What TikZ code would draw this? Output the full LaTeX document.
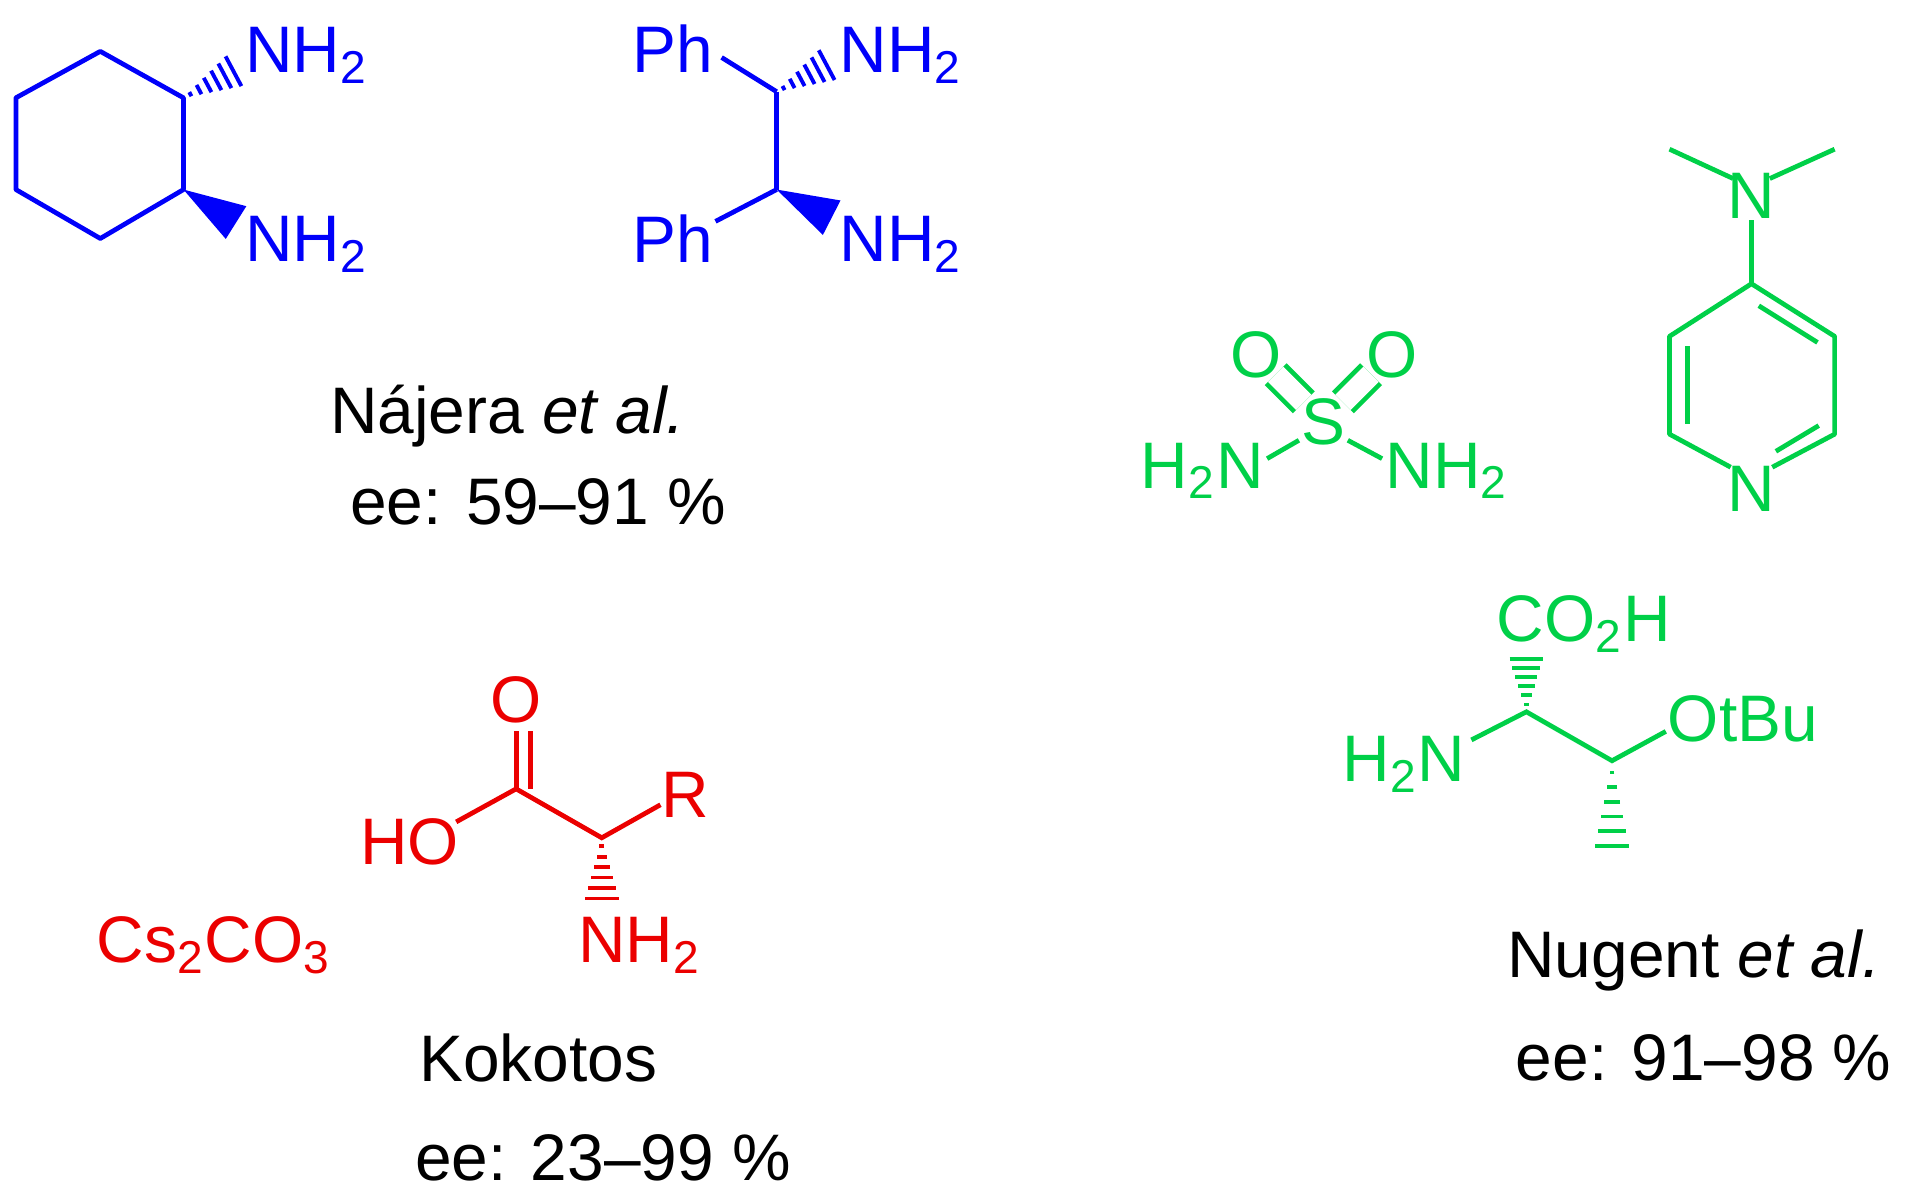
\documentclass[tikz,border=0pt]{standalone}
\usepackage{fontspec}
\setmainfont{Liberation Sans}
\usetikzlibrary{calc}
\definecolor{cb}{RGB}{0,0,250}
\definecolor{cg}{RGB}{0,208,72}
\definecolor{cr}{RGB}{235,0,0}
\tikzset{lab/.style={inner sep=0pt,font=\fontsize{15.3pt}{18pt}\selectfont},bd/.style={line width=1.1pt}}
\newcommand\sub[1]{\textsubscript{#1}}
\newcommand\hashb[3]{\foreach \t in {0.12,0.27,...,1.0}{\path coordinate (hp) at ($(#1)!\t!(#2)$);\draw[#3,line width=0.9pt] ($(hp)!\t*4.5pt!90:(#2)$) -- ($(hp)!\t*4.5pt!-90:(#2)$);}}
\newcommand\wedgeb[3]{\fill[#3] (#1) -- ($(#2)!4.5pt!90:(#1)$) -- ($(#2)!4.5pt!-90:(#1)$) -- cycle;}
\begin{document}
\begin{tikzpicture}[x=0.01cm,y=-0.01cm]
\useasboundingbox (0,0) rectangle (1560,983);
% blue cyclohexane
\begin{scope}[cb]
\coordinate (a1) at (82,42);\coordinate (a2) at (150,80);\coordinate (a3) at (150,155);
\coordinate (a4) at (82,195);\coordinate (a5) at (13,155);\coordinate (a6) at (13,80);
\draw[bd,line join=round] (a1)--(a2)--(a3)--(a4)--(a5)--(a6)--cycle;
\coordinate (h1) at (197,55);\coordinate (w1) at (193,182);
\hashb{a2}{h1}{cb}\wedgeb{a3}{w1}{cb}
\node[lab,anchor=west] (n1) at (200,45) {NH\sub{2}};
\node[lab,anchor=west] (n2) at (200,200) {NH\sub{2}};
\coordinate (b1) at (635,75);\coordinate (b2) at (635,155);
\draw[bd] (b1)--(b2);
\node[lab] (ph1) at (550,40) {Ph};\node[lab] (ph2) at (550,195) {Ph};
\coordinate (pe1) at (590,47);\coordinate (pe2) at (585,181);
\draw[bd] (pe1)--(b1);\draw[bd] (pe2)--(b2);
\coordinate (h2) at (682,50);\coordinate (w2) at (680,178);
\hashb{b1}{h2}{cb}\wedgeb{b2}{w2}{cb}
\node[lab,anchor=west] (n3) at (686,45) {NH\sub{2}};
\node[lab,anchor=west] (n4) at (686,200) {NH\sub{2}};
\end{scope}
\node[lab] (t1) at (415,340) {Nájera \textit{et al.}};
\node[lab] (t2) at (440,410) {ee: 59–91 \%};
% green sulfamide
\begin{scope}[cg]
\node[lab] (s) at (1082,345) {S};
\node[lab] (o1) at (1027,290) {O};\node[lab] (o2) at (1138,290) {O};
\node[lab] (sn1) at (983,385) {H\sub{2}N};\node[lab] (sn2) at (1183,385) {NH\sub{2}};
\coordinate (so1a) at (1066,329);\coordinate (so1b) at (1043,306);
\coordinate (so2a) at (1098,329);\coordinate (so2b) at (1121,306);
\draw[bd,double,double distance=5pt] (so1a)--(so1b);
\draw[bd,double,double distance=5pt] (so2a)--(so2b);
\coordinate (sna) at (1062,360);\coordinate (snb) at (1036,375);
\coordinate (snc) at (1102,360);\coordinate (snd) at (1130,375);
\draw[bd] (sna)--(snb);\draw[bd] (snc)--(snd);
% DMAP
\node[lab] (dn) at (1432,160) {N};
\coordinate (m1) at (1365,122);\coordinate (m2) at (1500,122);
\coordinate (dm1) at (1417,146);\coordinate (dm2) at (1447,146);\coordinate (dm3) at (1432,180);
\draw[bd] (dm1)--(m1);\draw[bd] (dm2)--(m2);
\coordinate (r1) at (1432,232);\coordinate (r2) at (1500,275);\coordinate (r3) at (1500,355);
\node[lab] (rn) at (1432,400) {N};\coordinate (r5) at (1365,355);\coordinate (r6) at (1365,275);
\draw[bd] (dm3)--(r1);
\coordinate (rna) at (1449,382);\coordinate (rnb) at (1415,382);
\draw[bd,line join=round] (rna) -- (r3)--(r2)--(r1)--(r6)--(r5)--(rnb);
\draw[bd] (1380,283)--(1380,347);
\draw[bd] (1438,250)--(1486,280);
\draw[bd] (1487,348)--(1452,369);
% threonine
\coordinate (ca) at (1248,582);\coordinate (cb2) at (1318,622);
\node[lab] (co) at (1295,510) {CO\sub{2}H};
\coordinate (ch) at (1248,532);\hashb{ca}{ch}{cg}
\node[lab] (tn) at (1148,625) {H\sub{2}N};
\coordinate (tne) at (1203,605);
\coordinate (oe) at (1362,598);
\draw[bd] (tne)--(ca)--(cb2)--(oe);
\node[lab] (ot) at (1425,588) {OtBu};
\coordinate (me) at (1318,702);\hashb{cb2}{me}{cg}
\end{scope}
\node[lab] (t3) at (1385,785) {Nugent \textit{et al.}};
\node[lab] (t4) at (1393,865) {ee: 91–98 \%};
% red
\begin{scope}[cr]
\node[lab] (cs) at (175,773) {Cs\sub{2}CO\sub{3}};
\node[lab] (ro) at (422,572) {O};
\coordinate (rc) at (422,645);\coordinate (rca) at (492,685);
\coordinate (roa) at (422,598);
\draw[bd] (rc)--(roa);
\draw[bd] (434,645)--(434,598);
\node[lab] (ho) at (335,688) {HO};
\coordinate (hoe) at (373,672);\coordinate (re) at (540,658);
\draw[bd] (hoe)--(rc)--(rca)--(re);
\node[lab] (rr) at (560,650) {R};
\coordinate (rh) at (492,742);\hashb{rca}{rh}{cr}
\node[lab,anchor=west] (rn2) at (472,773) {NH\sub{2}};
\end{scope}
\node[lab] (t5) at (440,865) {Kokotos};
\node[lab] (t6) at (493,947) {ee: 23–99 \%};
\end{tikzpicture}
\end{document}
